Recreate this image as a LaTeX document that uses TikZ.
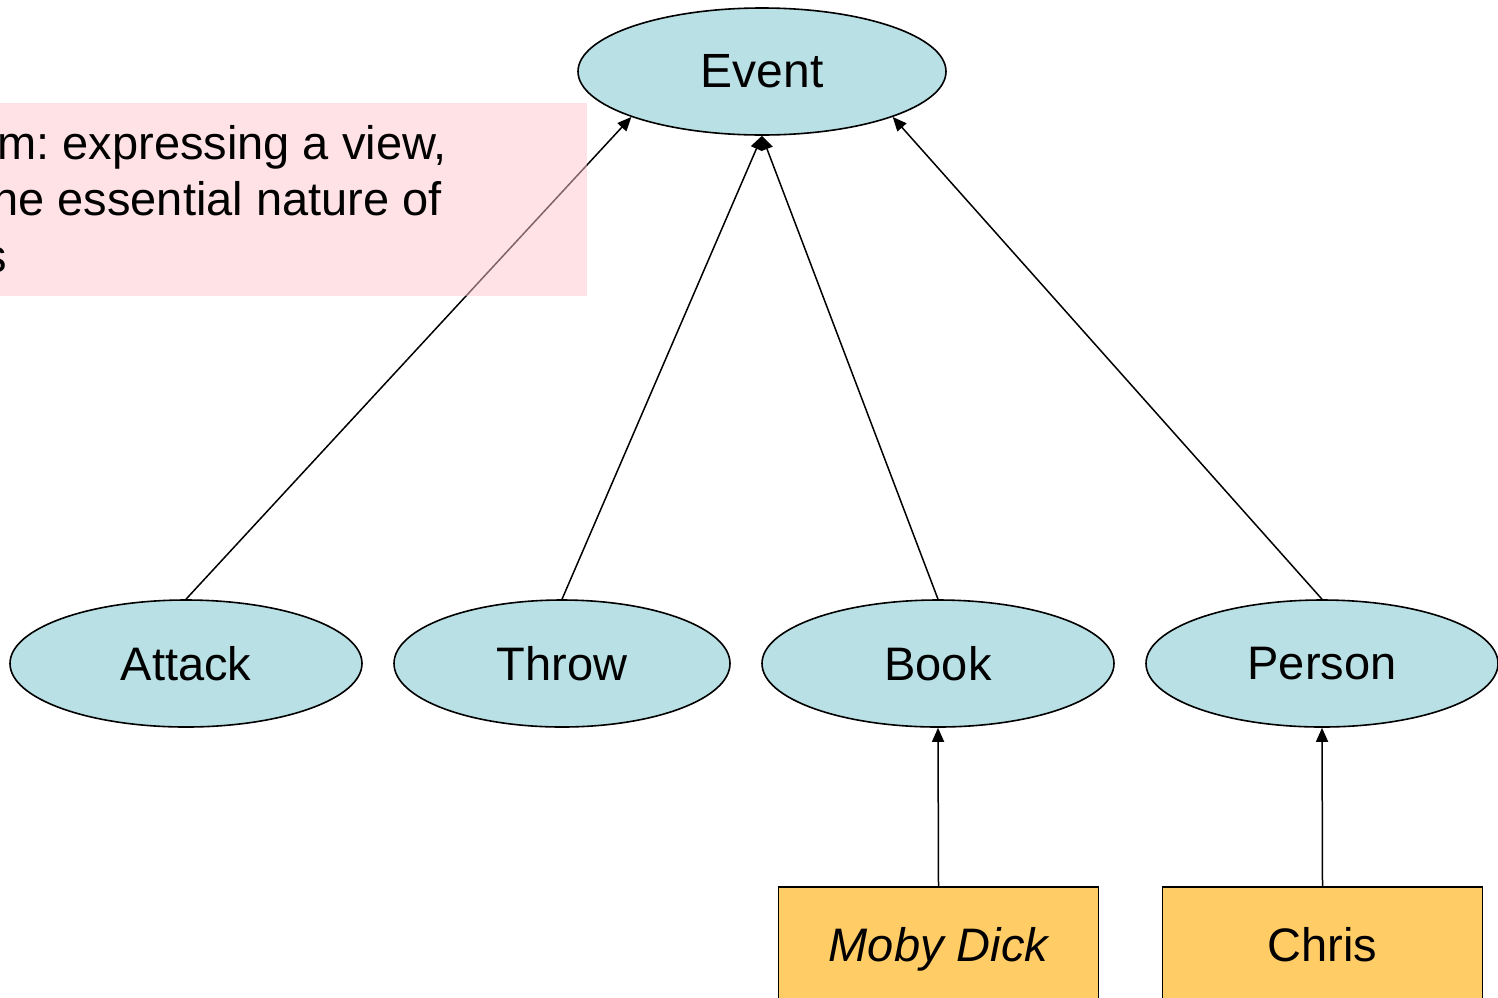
\documentclass[tikz,border=0pt]{standalone}
\usepackage{fontspec}
\setmainfont{Liberation Sans}
\usetikzlibrary{shapes.geometric,arrows.meta}
\definecolor{ellfill}{RGB}{185,224,228}
\definecolor{boxfill}{RGB}{255,204,102}
\definecolor{notefill}{RGB}{255,198,204}
\tikzset{
  ell/.style={ellipse, draw=black, line width=0.8pt, fill=ellfill, inner sep=0pt,
    minimum width=176pt, minimum height=63.5pt, font=\fontsize{23.5}{28}\selectfont},
  inst/.style={rectangle, draw=black, line width=0.8pt, fill=boxfill, inner sep=0pt,
    minimum width=160pt, minimum height=57pt, text depth=0pt, font=\fontsize{23.5}{28}\selectfont},
  arr/.style={draw=black, line width=0.75pt, -{Triangle[length=7pt,width=6pt]}},
  notetext/.style={anchor=base west, inner sep=0pt, font=\fontsize{23.5}{28}\selectfont},
}
\begin{document}
\frenchspacing
\begin{tikzpicture}[x=0.5pt,y=-0.5pt]
\useasboundingbox (0,0) rectangle (1498,997);
\clip (0,0) rectangle (1498,997);
\node[ell, minimum width=184pt, font=\fontsize{24}{28}\selectfont] (event) at (762,71.5) {Event};
\node[ell] (attack) at (186,663.5) {Attack};
\node[ell, minimum width=168pt] (throw) at (562,663.5) {Throw};
\node[ell] (book) at (938,663.5) {Book};
\node[ell] (person) at (1322,663.5) {Person};
\node[inst] (moby) at (938.5,944) {\itshape Moby Dick};
\node[inst] (chris) at (1322.5,944) {Chris};
\draw[arr] (attack.north) -- (event.south west);
\draw[arr] (throw.north) -- (event.south);
\draw[arr] (book.north) -- (event.south);
\draw[arr] (person.north) -- (event.south east);
\draw[arr] (moby.north) -- (book.south);
\draw[arr] (chris.north) -- (person.south);
\node[rectangle, fill=notefill, fill opacity=0.5, draw=none, inner sep=0pt,
  minimum width=303.5pt, minimum height=96.5pt, anchor=north east] (note) at (587,103) {};
\node[notetext] (l1) at (-3,159) {m: expressing a view,};
\node[notetext] (l2) at (-8,215) {he essential nature of};
\node[notetext] (l3) at (-17,272) {s};
\end{tikzpicture}
\end{document}
